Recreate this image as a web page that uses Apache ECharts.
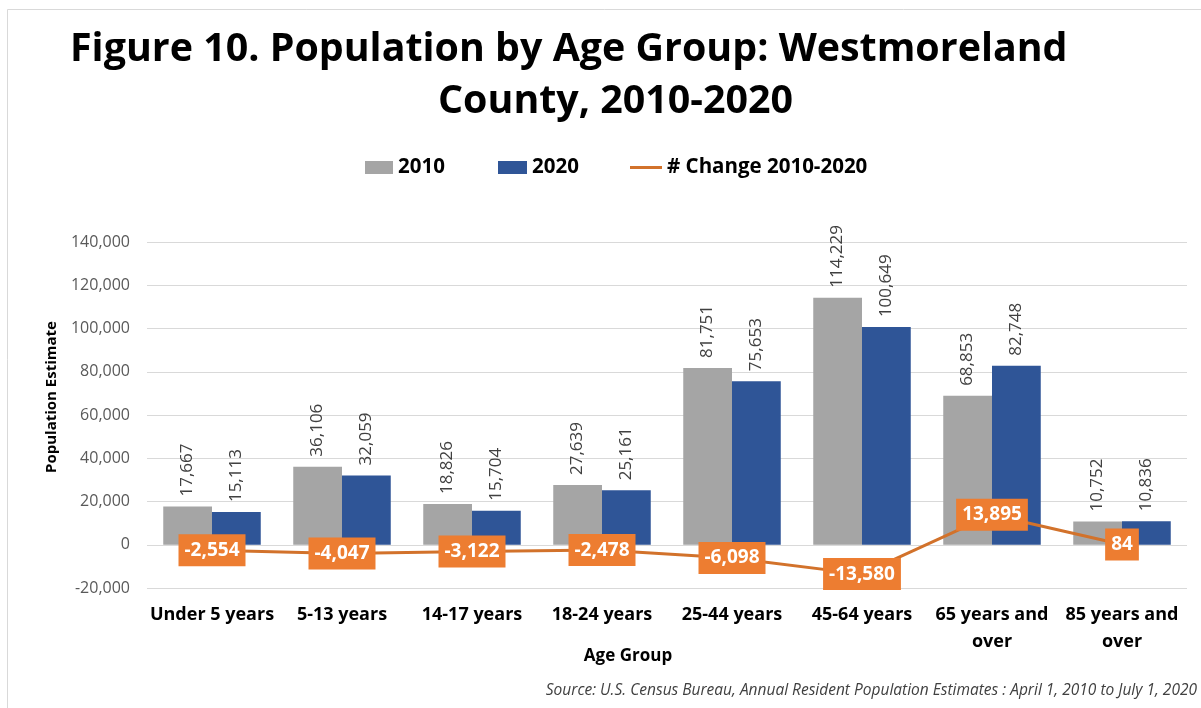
<!DOCTYPE html>
<html><head><meta charset="utf-8">
<script src="https://cdn.jsdelivr.net/npm/echarts@6/dist/echarts.min.js"></script>
<style>html,body{margin:0;padding:0;background:#fff}#c{width:1201px;height:708px}</style>
</head><body><div id="c"></div>
<script>
const categories = ['Under 5 years','5-13 years','14-17 years','18-24 years','25-44 years','45-64 years','65 years and\nover','85 years and\nover'];
const pop2010 = [17667, 36106, 18826, 27639, 81751, 114229, 68853, 10752];
const pop2020 = [15113, 32059, 15704, 25161, 75653, 100649, 82748, 10836];
const change = [-2554, -4047, -3122, -2478, -6098, -13580, 13895, 84];
const yTicks = {min: -20000, max: 140000, interval: 20000};

const FF = '"Open Sans", Lato, sans-serif';
const fmt = v => v.toLocaleString('en-US');
const legendText = {fontFamily: FF, fontSize: 20.5, fontWeight: 'bold', color: '#000'};
const titleText = {fontFamily: FF, fontSize: 39.4, fontWeight: 'bold', color: '#000', lineHeight: 52};
const chart = echarts.init(document.getElementById('c'));
chart.setOption({
  animation: false,
  backgroundColor: '#fff',
  title: [
    {text: 'Figure 10. Population by Age Group: Westmoreland', left: 70, top: 24, padding: 0, textStyle: titleText},
    {text: 'County, 2010-2020', left: 438, top: 76, padding: 0, textStyle: titleText}
  ],
  legend: [
    {data: [{name: '2010', icon: 'rect'}], left: 360, top: 152, itemWidth: 28, itemHeight: 13, textStyle: legendText},
    {data: [{name: '2020', icon: 'rect'}], left: 493, top: 152, itemWidth: 29, itemHeight: 13, textStyle: legendText},
    {data: [{name: '# Change 2010-2020', icon: 'rect'}], left: 625, top: 152, itemWidth: 32, itemHeight: 3, textStyle: legendText}
  ],
  grid: {left: 147, right: 14, top: 242, bottom: 120, containLabel: false},
  xAxis: {
    type: 'category', data: categories,
    axisLine: {show: false, onZero: false}, axisTick: {show: false},
    axisLabel: {fontFamily: FF, fontSize: 18, fontWeight: 'bold', color: '#000', margin: 13, lineHeight: 27, interval: 0}
  },
  yAxis: {
    type: 'value', min: yTicks.min, max: yTicks.max, interval: yTicks.interval,
    axisLine: {show: false}, axisTick: {show: false},
    splitLine: {lineStyle: {color: '#D9D9D9', width: 1}},
    axisLabel: {fontFamily: FF, fontSize: 16, color: '#595959', margin: 17, formatter: v => fmt(v)}
  },
  series: [
    {name: '2010', type: 'bar', data: pop2010, barGap: '0%', barCategoryGap: '25%',
     itemStyle: {color: '#A5A5A5'},
     label: {show: true, position: 'top', rotate: 90, align: 'left', verticalAlign: 'middle', distance: 10,
             fontFamily: FF, fontSize: 17, color: '#404040', formatter: p => fmt(p.value)}},
    {name: '2020', type: 'bar', data: pop2020,
     itemStyle: {color: '#2F5597'},
     label: {show: true, position: 'top', rotate: 90, align: 'left', verticalAlign: 'middle', distance: 10,
             fontFamily: FF, fontSize: 17, color: '#404040', formatter: p => fmt(p.value)}},
    {name: '# Change 2010-2020', type: 'line', data: change, symbol: 'circle', symbolSize: 1, showSymbol: true, z: 5,
     lineStyle: {color: '#D2722B', width: 3}, itemStyle: {color: '#D2722B'},
     label: {show: true, position: 'inside', backgroundColor: '#ED7D31', color: '#fff',
             fontFamily: FF, fontSize: 19, fontWeight: 'bold', lineHeight: 20, padding: [6, 6, 6, 6],
             formatter: p => fmt(p.value)}}
  ],
  graphic: [
    {type: 'rect', shape: {x: 7.5, y: 9.5, width: 1300, height: 800}, style: {fill: 'none', stroke: '#D9D9D9', lineWidth: 1}, z: -1},
    {type: 'text', x: 52, y: 397, rotation: Math.PI / 2,
     style: {text: 'Population Estimate', fontFamily: FF, fontSize: 15, fontWeight: 'bold', fill: '#000', textAlign: 'center', textVerticalAlign: 'middle'}},
    {type: 'text', x: 628, y: 656,
     style: {text: 'Age Group', fontFamily: FF, fontSize: 17, fontWeight: 'bold', fill: '#000', textAlign: 'center', textVerticalAlign: 'middle'}},
    {type: 'text', x: 1197, y: 691,
     style: {text: 'Source: U.S. Census Bureau, Annual Resident Population Estimates : April 1, 2010 to July 1, 2020', fontFamily: FF, fontSize: 15.5, fontStyle: 'italic', fill: '#404040', textAlign: 'right', textVerticalAlign: 'middle'}}
  ]
});
</script></body></html>
